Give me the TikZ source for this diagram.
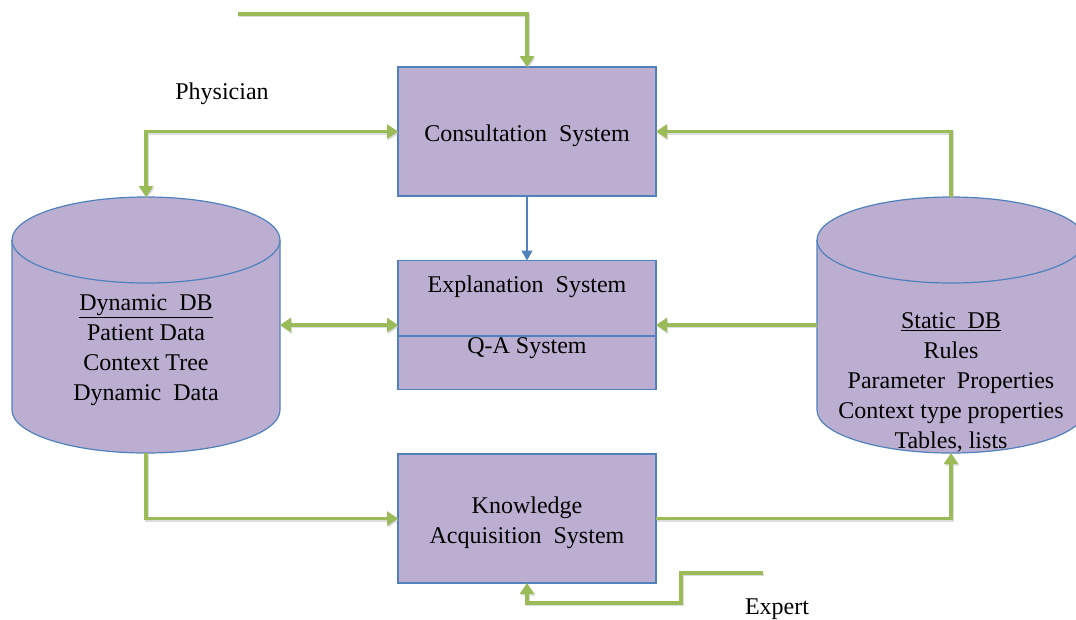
\documentclass[tikz,border=0pt]{standalone}
\usepackage{fontspec}
\setmainfont{Liberation Serif}
\usetikzlibrary{arrows.meta}
\definecolor{boxfill}{RGB}{188,174,208}
\definecolor{boxline}{RGB}{79,129,189}
\definecolor{flowgreen}{RGB}{155,187,89}
\tikzset{
  txt/.style={font=\fontsize{24}{30}\selectfont, align=center, inner sep=0pt},
  sysbox/.style={draw=boxline, fill=boxfill, line width=1.2pt,
    minimum width=258pt, minimum height=129pt, inner sep=0pt, outer sep=0pt},
  dbarea/.style={minimum width=268pt, minimum height=256pt, inner sep=0pt, outer sep=0pt},
  cyl/.style={draw=boxline, fill=boxfill, line width=1.2pt},
  gtip/.tip={Triangle[length=11pt,width=14pt]},
  flow/.style={draw=flowgreen, line width=3.5pt, -gtip,
    preaction={draw=black!30, opacity=0.45, line width=3.5pt,
      transform canvas={shift={(1.2pt,-1.6pt)}}}},
  flowboth/.style={flow, gtip-gtip},
  thinflow/.style={draw=boxline, line width=1.5pt, -{Triangle[length=10pt,width=11pt]}}
}
\newcommand{\dbcylinder}[1]{%
  \path[cyl] ([yshift=-43pt]#1.north west) -- ([yshift=43pt]#1.south west)
    arc[start angle=180, end angle=360, x radius=134pt, y radius=43pt]
    -- ([yshift=-43pt]#1.north east)
    arc[start angle=0, end angle=180, x radius=134pt, y radius=43pt] -- cycle;
  \draw[boxline, line width=1.2pt] ([yshift=-43pt]#1.north west)
    arc[start angle=180, end angle=360, x radius=134pt, y radius=43pt];
}
\begin{document}
\begin{tikzpicture}[x=1pt, y=-1pt]
\useasboundingbox (0,0) rectangle (1076,619);

% system boxes
\node[sysbox] (cons) at (527,131.5) {};
\node[sysbox] (expl) at (527,325) {};
\node[sysbox] (know) at (527,518.5) {};
\draw[boxline, line width=1.2pt] (expl.west |- 0,336) -- (expl.east |- 0,336);

\node[txt] (constxt) at (527,136) {Consultation\ \ System};
\node[txt] (expltxt) at (527,287) {Explanation\ \ System};
\node[txt] (qatxt) at (527,348) {Q-A System};
\node[txt] (knowtxt) at (527,523) {Knowledge\\Acquisition\ \ System};

% databases
\node[dbarea] (ddb) at (146,325) {};
\node[dbarea] (sdb) at (951,325) {};
\dbcylinder{ddb}
\dbcylinder{sdb}

\node[txt] (ddbtxt) at (146,350) {\underline{Dynamic\ \ DB}\\Patient Data\\Context Tree\\Dynamic\ \ Data};
\node[txt] (sdbtxt) at (951,382) {\underline{Static\ \ DB}\\Rules\\Parameter\ \ Properties\\Context type properties\\Tables, lists};

% outside actors
\node[txt] (phys) at (222,94) {Physician};
\node[txt] (expert) at (777,609) {Expert};
\coordinate (physin) at (238,14);
\coordinate (expin) at (763,573);

% connectors
\draw[flow] (physin) -| (cons.north);
\draw[flowboth] (ddb.north) |- (cons.west);
\draw[flow] (sdb.north) |- (cons.east);
\draw[thinflow] (cons.south) -- (expl.north);
\draw[flowboth] (ddb.east) -- (expl.west);
\draw[flow] (sdb.west) -- (expl.east);
\draw[flow] (ddb.south) |- (know.west);
\draw[flow] (know.east) -| (sdb.south);
\draw[flow] (expin) -- (681,573) -- (681,603) -| (know.south);
\end{tikzpicture}
\end{document}
